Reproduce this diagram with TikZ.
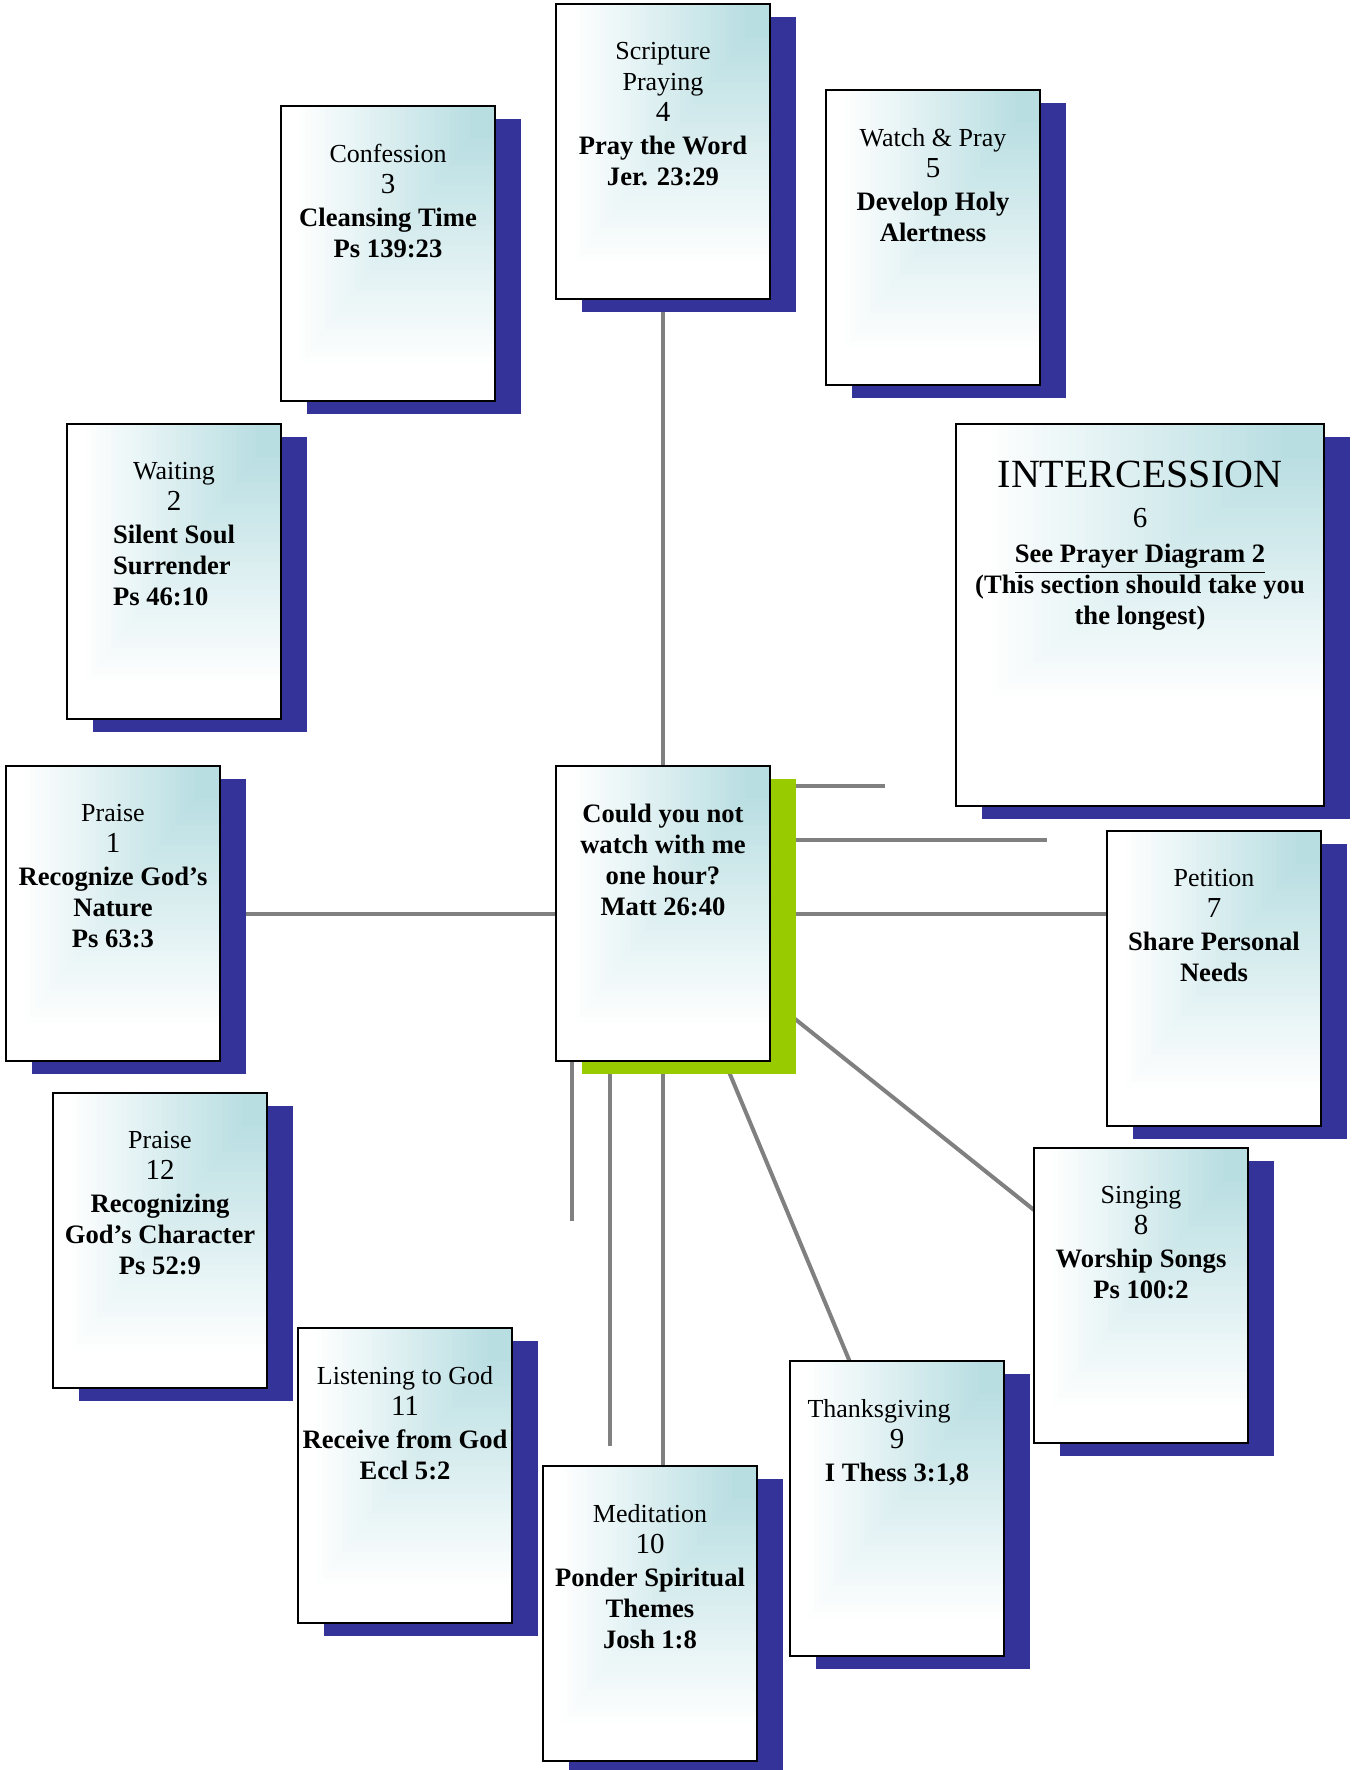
\documentclass[tikz,border=0pt]{standalone}
\usepackage{fontspec}
\setmainfont{Liberation Serif}
\usetikzlibrary{backgrounds,calc}
\definecolor{tealc}{RGB}{185,222,226}
\definecolor{shadowc}{RGB}{51,51,153}
\definecolor{greenc}{RGB}{153,204,0}
\definecolor{linec}{RGB}{128,128,128}
\newcommand\phead[1]{{\fontsize{13}{15.5}\selectfont #1}}
\newcommand\pnum[1]{{\fontsize{14.5}{15.5}\selectfont #1}}
\newcommand\pbold[1]{{\fontsize{13.3}{15.5}\selectfont\bfseries #1}}
\newcommand\pul[1]{\leavevmode\vtop{\hbox{#1}\kern1.4pt\hrule height 0.9pt}}
\tikzset{
  cshade/.style 2 args={path picture={
    \foreach \k in {40,39,...,1}{
      \pgfmathsetmacro\pc{max(0,min(100,100*(1-(\k/40-0.12)/0.88)))}
      \fill[tealc!\pc!white] (path picture bounding box.north east)
        rectangle ++({-#1*\k/40}, {-#2*\k/40});
    }}},
  pcard/.style={draw=black, line width=1pt, fill=white, cshade={100pt}{132pt},
    minimum width=107pt, minimum height=147.5pt, inner sep=0pt,
    preaction={fill=#1, transform canvas={shift={(13pt,-6.5pt)}}}},
  pcard/.default=shadowc,
  ptext/.style={align=center, inner sep=0pt, anchor=north,
    font=\fontsize{13}{15.5}\selectfont},
  pline/.style={draw=linec, line width=2pt}
}
\begin{document}
\begin{tikzpicture}[x=0.5pt, y=-0.5pt]
\useasboundingbox (0,0) rectangle (1351,1770);
\clip (0,0) rectangle (1351,1770);

% cards
\node[pcard] (b4) at (663,151.5) {};
\node[pcard] (b3) at (388,253.5) {};
\node[pcard] (b5) at (933,237.5) {};
\node[pcard, minimum width=184pt, minimum height=191pt, cshade={171pt}{140pt}] (b6) at (1140,615) {};
\node[pcard] (b2) at (174,571.5) {};
\node[pcard] (b1) at (113,913.5) {};
\node[pcard=greenc] (cbox) at (663,913.5) {};
\node[pcard] (b7) at (1214,978.5) {};
\node[pcard] (b12) at (160,1240.5) {};
\node[pcard] (b8) at (1141,1295.5) {};
\node[pcard] (b11) at (405,1475.5) {};
\node[pcard] (b9) at (897,1508.5) {};
\node[pcard] (b10) at (650,1613.5) {};

% texts
\node[ptext] (t4) at ($(b4.north)+(0,39)$) {\phead{Scripture}\\\phead{Praying}\\\pnum{4}\\[1pt]\pbold{Pray the Word}\\\pbold{Jer. 23:29}};
\node[ptext] (t3) at ($(b3.north)+(0,39)$) {\phead{Confession}\\\pnum{3}\\[1pt]\pbold{Cleansing Time}\\\pbold{Ps 139:23}};
\node[ptext] (t5) at ($(b5.north)+(0,39)$) {\phead{Watch \& Pray}\\\pnum{5}\\[1pt]\pbold{Develop Holy}\\\pbold{Alertness}};
\node[ptext] (t6) at ($(b6.north)+(0,38)$) {{\fontsize{20}{22}\selectfont INTERCESSION}\\[4.5pt]\pnum{6}\\[2pt]\pbold{\pul{See Prayer Diagram 2}}\\\pbold{(This section should take you}\\\pbold{the longest)}};
\node[ptext] (t2) at ($(b2.north)+(0,39)$) {\phead{Waiting}\\\pnum{2}\\[1pt]\pbold{\begin{tabular}[t]{@{}l@{}}Silent Soul\\Surrender\\Ps 46:10\end{tabular}}};
\node[ptext] (t1) at ($(b1.north)+(0,39)$) {\phead{Praise}\\\pnum{1}\\[1pt]\pbold{Recognize God’s}\\\pbold{Nature}\\\pbold{Ps 63:3}};
\node[ptext] (tc) at ($(cbox.north)+(0,39)$) {\pbold{Could you not}\\\pbold{watch with me}\\\pbold{one hour?}\\\pbold{Matt 26:40}};
\node[ptext] (t7) at ($(b7.north)+(0,39)$) {\phead{Petition}\\\pnum{7}\\[1pt]\pbold{Share Personal}\\\pbold{Needs}};
\node[ptext] (t12) at ($(b12.north)+(0,39)$) {\phead{Praise}\\\pnum{12}\\[1pt]\pbold{Recognizing}\\\pbold{God’s Character}\\\pbold{Ps 52:9}};
\node[ptext] (t8) at ($(b8.north)+(0,39)$) {\phead{Singing}\\\pnum{8}\\[1pt]\pbold{Worship Songs}\\\pbold{Ps 100:2}};
\node[ptext] (t11) at ($(b11.north)+(0,39)$) {\phead{Listening to God}\\\pnum{11}\\[1pt]\pbold{Receive from God}\\\pbold{Eccl 5:2}};
\node[ptext] (t9) at ($(b9.north)+(0,39)$) {\phead{Thanksgiving\hspace*{18pt}}\\\pnum{9}\\[1pt]\pbold{I Thess 3:1,8}};
\node[ptext] (t10) at ($(b10.north)+(0,39)$) {\phead{Meditation}\\\pnum{10}\\[1pt]\pbold{Ponder Spiritual}\\\pbold{Themes}\\\pbold{Josh 1:8}};

% connectors behind the cards
\coordinate (s1) at (885,786);
\coordinate (s2) at (1047,840);
\coordinate (v1) at (572,1221);
\coordinate (v2) at (610,1446);
\begin{scope}[on background layer]
\fill[white] (0,0) rectangle (1351,1770);
\draw[pline] (b4.center) -- (cbox.center);
\draw[pline] (b1.center) -- (cbox.center);
\draw[pline] (cbox.center) -- (cbox.center -| b7.west);
\draw[pline] (cbox.center |- s1) -- (s1);
\draw[pline] (cbox.center |- s2) -- (s2);
\draw[pline] (cbox.center) -- (b8.center);
\draw[pline] (cbox.center) -- ($(b9.center)+(14,0)$);
\draw[pline] (cbox.center) -- (cbox.center |- b10.north);
\draw[pline] (cbox.center -| v1) -- (v1);
\draw[pline] (cbox.center -| v2) -- (v2);
\end{scope}
\end{tikzpicture}
\end{document}
